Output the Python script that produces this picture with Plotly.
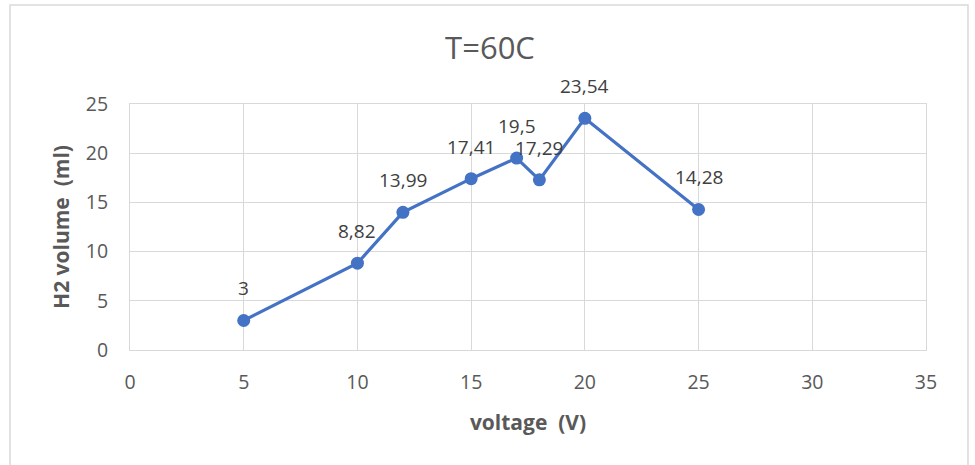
import plotly.graph_objects as go

voltage = [5, 10, 12, 15, 17, 18, 20, 25]
h2_volume = [3, 8.82, 13.99, 17.41, 19.5, 17.29, 23.54, 14.28]
labels = ["3", "8,82", "13,99", "17,41", "19,5", "17,29", "23,54", "14,28"]

FONT = "Open Sans, Liberation Sans, sans-serif"
GRAY = "#595959"
GRID = "#D9D9D9"

fig = go.Figure()
fig.add_trace(go.Scatter(
    x=voltage, y=h2_volume, mode="lines+markers",
    line=dict(color="#4472C4", width=3.2),
    marker=dict(color="#4472C4", size=13),
    showlegend=False, hoverinfo="skip",
))

for xv, yv, lab in zip(voltage, h2_volume, labels):
    fig.add_annotation(x=xv, y=yv, text=lab, showarrow=False,
                       yanchor="bottom", yshift=17,
                       font=dict(family=FONT, size=19, color="#404040"))

fig.update_layout(
    width=975, height=465,
    margin=dict(l=130, r=49, t=104, b=115),
    paper_bgcolor="white", plot_bgcolor="white",
    title=dict(text="T=60C", x=490/975, xanchor="center", y=1-48/465, yanchor="middle",
               font=dict(family=FONT, size=31, color=GRAY)),
    font=dict(family=FONT, color=GRAY),
)
fig.update_xaxes(range=[0, 35], dtick=5, tick0=0,
                 showgrid=True, gridcolor=GRID, gridwidth=1,
                 showline=True, linecolor=GRID, linewidth=1, mirror=True,
                 zeroline=False, ticks="", ticklabelstandoff=15,
                 tickfont=dict(family=FONT, size=19.5, color=GRAY),
                 title=dict(text="<b>voltage&nbsp; (V)</b>", standoff=20,
                            font=dict(family=FONT, size=21, color=GRAY)))
fig.update_yaxes(range=[0, 25], dtick=5, tick0=0,
                 showgrid=True, gridcolor=GRID, gridwidth=1,
                 showline=True, linecolor=GRID, linewidth=1, mirror=True,
                 zeroline=False, ticks="", ticklabelstandoff=17,
                 tickfont=dict(family=FONT, size=19.5, color=GRAY),
                 title=dict(text="<b>H2 volume&nbsp; (ml)</b>", standoff=10,
                            font=dict(family=FONT, size=21, color=GRAY)))

pw = 975 - 130 - 49
ph = 465 - 104 - 115
fig.add_shape(type="rect", xref="paper", yref="paper",
              x0=(10 - 130) / pw, x1=(968 - 130) / pw,
              y0=(350 - 470) / ph, y1=(350 - 5) / ph,
              line=dict(color=GRID, width=1.5), fillcolor="rgba(0,0,0,0)", layer="below")

fig.write_html("out.html")
